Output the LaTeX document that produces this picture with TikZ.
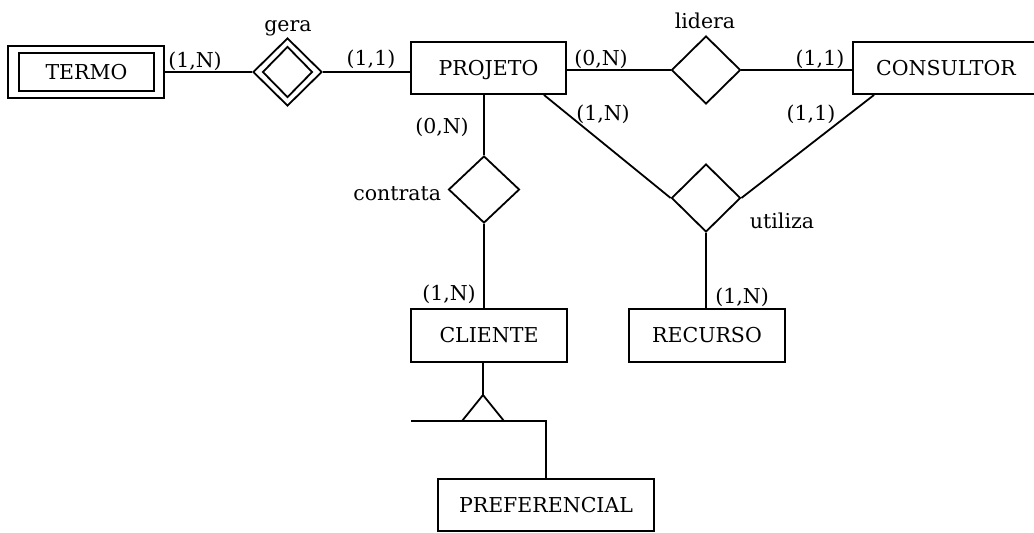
\documentclass[tikz,border=0pt]{standalone}
\usepackage{fontspec}
\setmainfont{DejaVu Serif}
\usetikzlibrary{shapes.geometric}
\tikzset{
  entidade/.style={draw,inner sep=0pt,minimum height=52pt,text height=14pt,text depth=0pt},
  relac/.style={draw,diamond,inner sep=0pt,minimum width=69pt,minimum height=68pt},
  rot/.style={anchor=base,inner sep=0pt}
}
\begin{document}
\begin{tikzpicture}[x=1pt,y=-1pt,line width=1.8pt,font=\fontsize{20.5}{24}\selectfont]
\useasboundingbox (0,0) rectangle (1034,533);
% entidades
\node[entidade,minimum width=156pt] (termofora) at(86,72) {};
\node[entidade,minimum width=135pt,minimum height=38pt] (termo) at(86.5,72) {TERMO};
\node[entidade,minimum width=155pt] (projeto) at(488.5,68) {PROJETO};
\node[entidade,minimum width=186pt] (consultor) at(946,68) {CONSULTOR};
\node[entidade,minimum width=156pt,minimum height=53pt] (cliente) at(489,335.5) {CLIENTE};
\node[entidade,minimum width=156pt,minimum height=53pt] (recurso) at(707,335.5) {RECURSO};
\node[entidade,minimum width=216pt] (preferencial) at(546,505) {PREFERENCIAL};
% relacionamentos
\node[relac] (gera) at(287.5,72) {};
\node[relac,minimum width=50pt,minimum height=51pt] (geradentro) at(287.5,72) {};
\node[relac] (lidera) at(706,70) {};
\node[relac,minimum width=71pt,minimum height=67pt] (contrata) at(484,189.5) {};
\node[relac] (utiliza) at(706,198) {};
% ligacoes
\draw (termofora.east) -- (gera.west);
\draw (gera.east) -- (gera.east -| projeto.west);
\draw (projeto.east |- lidera.west) -- (lidera.west);
\draw (lidera.east) -- (lidera.east -| consultor.west);
\draw (contrata.north |- projeto.south) -- (contrata.north);
\draw (contrata.south) -- (contrata.south |- cliente.north);
\draw ([xshift=-23pt]projeto.south east) -- (utiliza.west);
\draw ([xshift=22pt]consultor.south west) -- (utiliza.east);
\draw (utiliza.south) -- (utiliza.south |- recurso.north);
% especializacao
\coordinate (ponta) at(483,395);
\coordinate (baseE) at(462,421);
\coordinate (baseD) at(504,421);
\coordinate (linhaE) at(411,421);
\draw (cliente.south -| ponta) -- (ponta);
\draw (ponta) -- (baseE) -- (baseD) -- cycle;
\draw (linhaE) -- (linhaE -| preferencial.north) -- (preferencial.north);
% rotulos
\node[rot] (lgera) at(288,31) {gera};
\node[rot] (llidera) at(705,28) {lidera};
\node[anchor=base east,inner sep=0pt] (lcontrata) at(442,200) {contrata};
\node[rot] (lutiliza) at(782,228) {utiliza};
\node[rot] (c1) at(195,67) {(1,N)};
\node[rot] (c2) at(371,65) {(1,1)};
\node[rot] (c3) at(601,65) {(0,N)};
\node[rot] (c4) at(820,65) {(1,1)};
\node[rot] (c5) at(442,133) {(0,N)};
\node[rot] (c6) at(603,120) {(1,N)};
\node[rot] (c7) at(811,120) {(1,1)};
\node[rot] (c8) at(449,300) {(1,N)};
\node[rot] (c9) at(742,303) {(1,N)};
\end{tikzpicture}
\end{document}
